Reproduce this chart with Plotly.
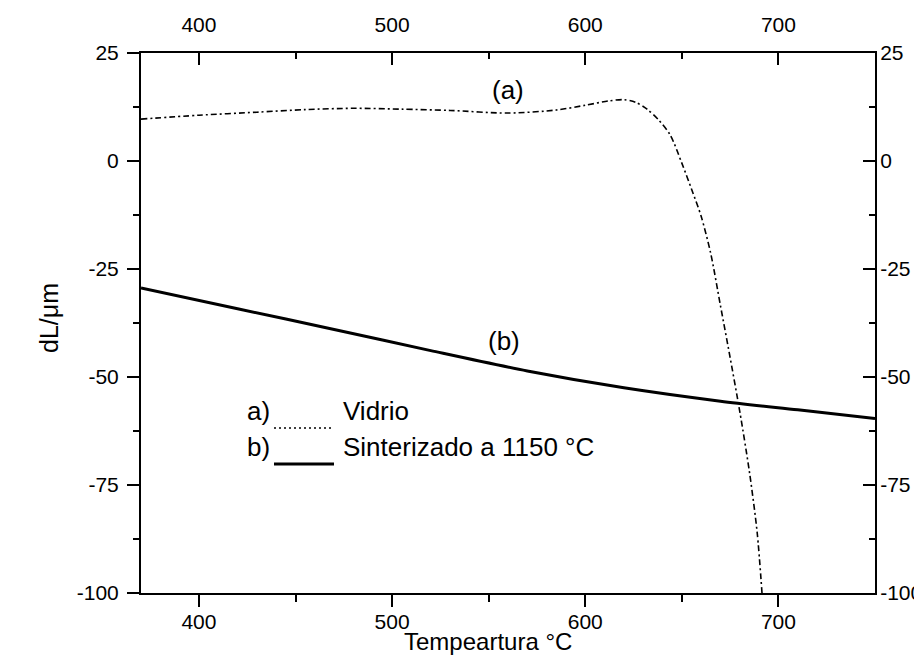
import plotly.graph_objects as go

# Curve (a) Vidrio
temp_a = [370, 400, 430, 455, 480, 505, 530, 560, 585, 600, 612, 620, 626, 632, 638, 644, 650, 655, 660, 665, 670, 675, 680, 685, 689, 691.5]
dl_a = [9.7, 10.6, 11.3, 11.9, 12.2, 12.0, 11.7, 11.1, 11.8, 12.9, 13.9, 14.2, 13.6, 12.0, 9.5, 6.0, -0.5, -6.5, -12.8, -21.5, -33.5, -45.5, -58.0, -72.0, -86.0, -100.0]

# Curve (b) Sinterizado a 1150 C
temp_b = [370, 420, 470, 520, 570, 620, 670, 710, 750]
dl_b = [-29.4, -34.2, -39.0, -43.9, -48.6, -52.5, -55.6, -57.6, -59.6]

x_ticks = [400, 500, 600, 700]
x_labels = ["400", "500", "600", "700"]
y_ticks = [25, 0, -25, -50, -75, -100]
y_labels = ["25", "0", "-25", "-50", "-75", "-100"]
x_range = [370, 750]
y_range = [-100, 25]

FONT = "Liberation Sans, Arial, sans-serif"
L, R, T, B = 133, 55, 45, 77
W, H = 922, 662
PW, PH = W - L - R, H - T - B


def px(xp):
    return (xp - L) / PW


def py(yp):
    return (H - B - yp) / PH


fig = go.Figure()
fig.add_trace(go.Scatter(x=temp_a, y=dl_a, mode="lines",
                         line=dict(color="black", width=1.6, dash="6px,3px,2px,3px", shape="spline", smoothing=0.8),
                         showlegend=False))
fig.add_trace(go.Scatter(x=temp_b, y=dl_b, mode="lines",
                         line=dict(color="black", width=3, shape="spline", smoothing=0.8),
                         showlegend=False))
fig.add_trace(go.Scatter(x=[None], y=[None], xaxis="x2", yaxis="y2", showlegend=False))

axis_common = dict(showline=True, linecolor="black", linewidth=2, showgrid=False, zeroline=False,
                   tickcolor="black", tickwidth=2, ticklen=12, automargin=False,
                   tickfont=dict(family=FONT, size=21, color="black"))
x_minor = [450, 550, 650]
y_minor = [12.5, -12.5, -37.5, -62.5, -87.5]

fig.update_layout(
    width=W, height=H,
    margin=dict(l=L, r=R, t=T, b=B),
    plot_bgcolor="white", paper_bgcolor="white",
    xaxis=dict(range=x_range, tickvals=x_ticks, ticktext=x_labels, ticks="outside",
               minor=dict(tickvals=x_minor, ticklen=7, tickwidth=2, tickcolor="black", ticks="outside"),
               ticklabelstandoff=-3, **axis_common),
    xaxis2=dict(range=x_range, tickvals=x_ticks, ticktext=x_labels, ticks="inside", overlaying="x", side="top",
                minor=dict(tickvals=x_minor, ticklen=6, tickwidth=2, tickcolor="black", ticks="inside"),
                ticklabelstandoff=11, **axis_common),
    yaxis=dict(range=y_range, tickvals=y_ticks, ticktext=y_labels, ticks="outside",
               minor=dict(tickvals=y_minor, ticklen=6, tickwidth=2, tickcolor="black", ticks="outside"),
               ticklabelstandoff=4, **axis_common),
    yaxis2=dict(range=y_range, tickvals=y_ticks, ticktext=y_labels, ticks="inside", overlaying="y", side="right",
                minor=dict(tickvals=y_minor, ticklen=6, tickwidth=2, tickcolor="black", ticks="inside"),
                ticklabelstandoff=-1, **axis_common),
)

txt = dict(family=FONT, size=26, color="black")

# curve labels
fig.add_annotation(x=560, y=16.4, text="(a)", showarrow=False, font=txt)
fig.add_annotation(x=558, y=-41.7, text="(b)", showarrow=False, font=txt)

# axis titles
fig.add_annotation(x=px(480), y=py(649), xref="paper", yref="paper",
                   text="Tempeartura \u00b0C", showarrow=False, font=dict(family=FONT, size=24, color="black"))
fig.add_annotation(x=px(25), y=py(310), xref="paper", yref="paper", text="dL/\u03bcm", textangle=-90,
                   showarrow=False, font=dict(family=FONT, size=25, color="black"))

# legend (hand-drawn)
for label, name, yrow, dash, width in [("a)", "Vidrio", 420, "2px,3px", 1.5),
                                        ("b)", "Sinterizado a 1150 \u00b0C", 456, "solid", 3)]:
    fig.add_annotation(x=px(237), y=py(yrow), xref="paper", yref="paper", text=label,
                       xanchor="left", showarrow=False, font=txt)
    fig.add_annotation(x=px(333), y=py(yrow), xref="paper", yref="paper", text=name,
                       xanchor="left", showarrow=False, font=txt)
    fig.add_shape(type="line", xref="paper", yref="paper", x0=px(266), x1=px(326), y0=py(yrow), y1=py(yrow),
                  line=dict(color="black", width=width, dash=dash))

fig.write_html("out.html")
